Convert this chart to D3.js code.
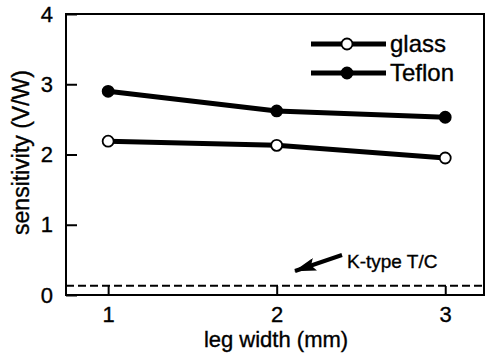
<!DOCTYPE html>
<html>
<head>
<meta charset="utf-8">
<script src="https://cdn.jsdelivr.net/npm/d3@7"></script>
<style>
  html, body { margin: 0; padding: 0; background: #fff; }
  svg { display: block; font-family: Arial, "Liberation Sans", sans-serif; }
  svg text { stroke: #000; stroke-width: 0.35px; }
</style>
</head>
<body>
<svg id="chart" width="486" height="353"></svg>
<script>
// leg width (mm) and measured sensitivity (V/W)
const legWidths = [1, 2, 3];
const glassValues = [2.19, 2.13, 1.95];
const teflonValues = [2.90, 2.62, 2.53];
const kTypeValue = 0.13;
const xTicks = [1, 2, 3];
const yTicks = [0, 1, 2, 3, 4];

const svg = d3.select("#chart");
const margin = { left: 66, right: 2, top: 14, bottom: 58 };
const W = 486, H = 353;

const x = d3.scaleLinear().domain([0.75, 3.23]).range([margin.left, W - margin.right]);
const y = d3.scaleLinear().domain([0, 4]).range([H - margin.bottom, margin.top]);

// frame
svg.append("rect")
  .attr("x", x.range()[0]).attr("y", y.range()[1])
  .attr("width", x.range()[1] - x.range()[0])
  .attr("height", y.range()[0] - y.range()[1])
  .attr("fill", "none").attr("stroke", "#000").attr("stroke-width", 2);

// axes with inward ticks
const yAxis = svg.append("g")
  .attr("transform", `translate(${x.range()[0]},0)`)
  .call(d3.axisLeft(y).tickValues(yTicks).tickFormat(d3.format("d")).tickSizeInner(-11).tickSizeOuter(0).tickPadding(13));
const xAxis = svg.append("g")
  .attr("transform", `translate(0,${y.range()[0]})`)
  .call(d3.axisBottom(x).tickValues(xTicks).tickFormat(d3.format("d")).tickSizeInner(-9).tickSizeOuter(0).tickPadding(11));
[yAxis, xAxis].forEach(g => {
  g.select(".domain").remove();
  g.selectAll(".tick line").attr("stroke", "#000").attr("stroke-width", 2);
  g.selectAll(".tick text").attr("fill", "#000").attr("font-size", 22).attr("font-family", "Arial, 'Liberation Sans', sans-serif");
});

// axis titles
svg.append("text")
  .attr("x", (x.range()[0] + x.range()[1]) / 2 + 1).attr("y", 347)
  .attr("text-anchor", "middle").attr("font-size", 22).text("leg width (mm)");
svg.append("text")
  .attr("transform", `translate(29,${(y.range()[0] + y.range()[1]) / 2 - 2}) rotate(-90)`)
  .attr("text-anchor", "middle").attr("font-size", 23).text("sensitivity (V/W)");

// K-type thermocouple reference
svg.append("line")
  .attr("x1", x.range()[0]).attr("x2", x.range()[1])
  .attr("y1", y(kTypeValue)).attr("y2", y(kTypeValue))
  .attr("stroke", "#000").attr("stroke-width", 2).attr("stroke-dasharray", "8,4");

const line = d3.line().x((d, i) => x(legWidths[i])).y(d => y(d));

const series = [
  { name: "glass", values: glassValues, fill: "#fff" },
  { name: "Teflon", values: teflonValues, fill: "#000" }
];

series.forEach(s => {
  svg.append("path").datum(s.values)
    .attr("d", line).attr("fill", "none").attr("stroke", "#000").attr("stroke-width", 5);
  svg.selectAll(null).data(s.values).enter().append("circle")
    .attr("cx", (d, i) => x(legWidths[i])).attr("cy", d => y(d))
    .attr("r", 5.5).attr("fill", s.fill).attr("stroke", "#000").attr("stroke-width", 1.8);
});

// legend
const legend = svg.append("g");
series.forEach((s, i) => {
  const ly = 44 + i * 29;
  legend.append("line").attr("x1", 311).attr("x2", 386).attr("y1", ly).attr("y2", ly)
    .attr("stroke", "#000").attr("stroke-width", 5);
  legend.append("circle").attr("cx", 347).attr("cy", ly).attr("r", 5.5)
    .attr("fill", s.fill).attr("stroke", "#000").attr("stroke-width", 1.8);
  legend.append("text").attr("x", 390).attr("y", ly + 8)
    .attr("font-size", 24).text(s.name);
});

// annotation with arrow
svg.append("defs").append("marker")
  .attr("id", "arrowhead").attr("viewBox", "0 0 22 13").attr("refX", 21).attr("refY", 6.5)
  .attr("markerWidth", 22).attr("markerHeight", 13).attr("markerUnits", "userSpaceOnUse")
  .attr("orient", "auto")
  .append("path").attr("d", "M0,0 L22,6.5 L0,13 L4,6.5 Z").attr("fill", "#000");
svg.append("line")
  .attr("x1", 342).attr("y1", 255).attr("x2", 295).attr("y2", 271)
  .attr("stroke", "#000").attr("stroke-width", 4).attr("marker-end", "url(#arrowhead)");
svg.append("text").attr("x", 347).attr("y", 268).attr("font-size", 19).text("K-type T/C");
</script>
</body>
</html>
